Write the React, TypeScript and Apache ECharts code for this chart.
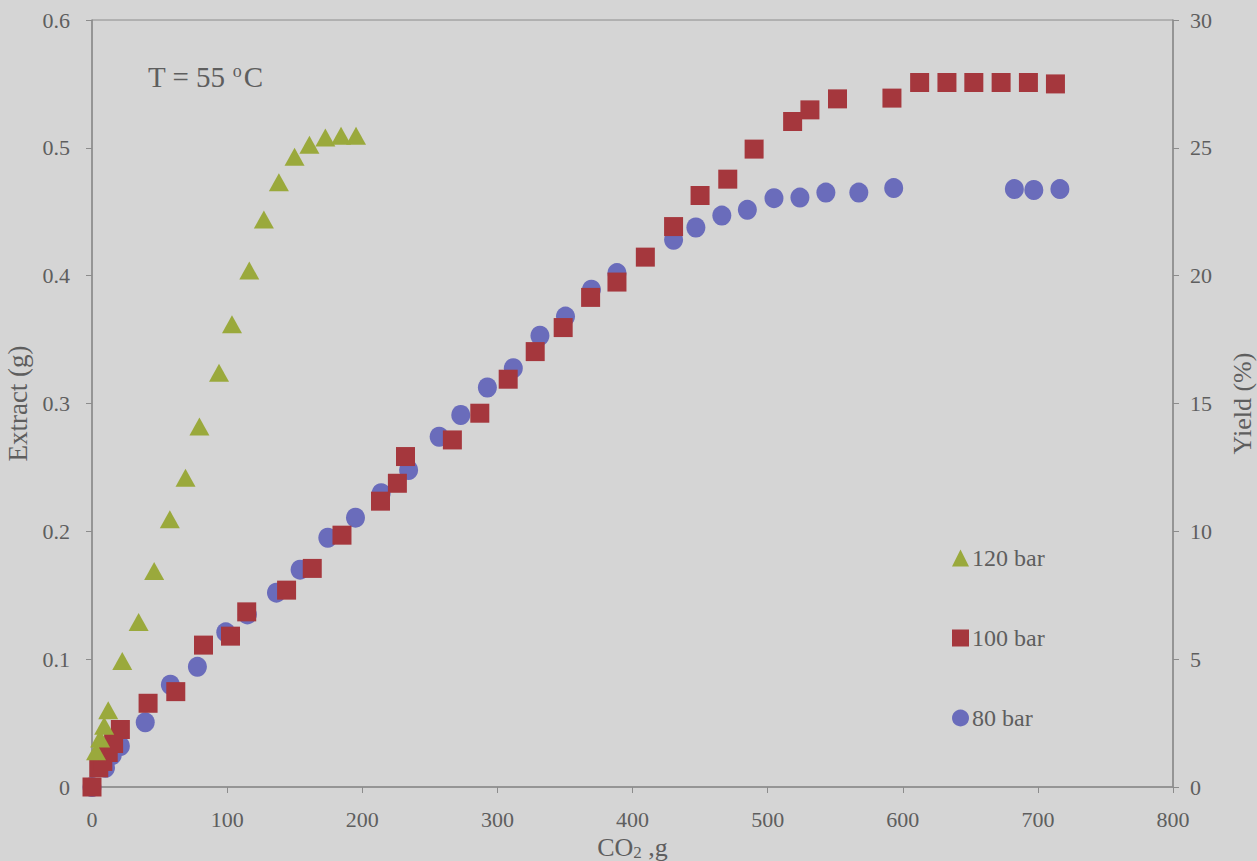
import React, { useEffect, useRef } from "react";
import * as echarts from "echarts";

const seriesNames = ["120 bar", "100 bar", "80 bar"];

const bar120: number[][] = [
  [3, 0.028], [6, 0.038], [9, 0.048], [12, 0.06], [22.4, 0.0986], [34.5, 0.129],
  [46, 0.169], [57.6, 0.2095], [69.2, 0.242], [79.5, 0.282], [94, 0.324],
  [103.6, 0.362], [116.4, 0.404], [127.2, 0.444], [138.3, 0.473], [149.9, 0.493],
  [160.9, 0.5025], [172.7, 0.508], [184.3, 0.5095], [195.4, 0.5095],
];

const bar100: number[][] = [
  [0, 0], [5, 0.015], [8, 0.02], [12, 0.027], [16, 0.034], [21, 0.045],
  [41.5, 0.0655], [62, 0.0746], [82.5, 0.111], [102.5, 0.118], [114.5, 0.137],
  [144, 0.154], [163, 0.171], [185, 0.197], [213.5, 0.2236], [226, 0.2376],
  [232, 0.2585], [266.7, 0.2715], [287, 0.2924], [308, 0.319], [328, 0.3406],
  [348.7, 0.3594], [369, 0.383], [388.5, 0.395], [409.5, 0.4145], [430.4, 0.4384],
  [450, 0.4627], [470.5, 0.4755], [490, 0.499], [518.5, 0.5206], [531.3, 0.5297],
  [551.7, 0.5383], [592, 0.5389], [612.5, 0.5511], [632.7, 0.5511], [652.6, 0.5511],
  [672.8, 0.5511], [693, 0.5511], [713, 0.55],
];

const bar80: number[][] = [
  [0, 0], [10, 0.015], [15, 0.025], [21, 0.032], [39.4, 0.0506], [58, 0.08],
  [78, 0.094], [99, 0.121], [115, 0.135], [136.5, 0.152], [154, 0.17],
  [174.5, 0.195], [195, 0.2107], [214, 0.2298], [234.3, 0.248], [256.9, 0.274],
  [272.9, 0.291], [292.6, 0.3125], [311.8, 0.3276], [331.5, 0.353], [350.4, 0.368],
  [369.6, 0.389], [388.5, 0.402], [430.4, 0.428], [446.9, 0.4377], [466.1, 0.447],
  [485, 0.4515], [504.7, 0.4606], [523.9, 0.4611], [543.1, 0.465], [567.5, 0.465],
  [593.3, 0.4685], [682.6, 0.4677], [697, 0.467], [716.3, 0.4677],
];

const xTicks = { min: 0, max: 800, interval: 100 };
const extractTicks = { min: 0, max: 0.6, interval: 0.1 };
const yieldTicks = { min: 0, max: 30, interval: 5 };

const FONT = "'Liberation Serif', 'DejaVu Serif', serif";
const TEXT = "#5e5e5e";
const AXIS = "#8c8c8c";

export default function App() {
  const ref = useRef<HTMLDivElement>(null);
  useEffect(() => {
    if (!ref.current) return;
    const chart = echarts.init(ref.current, null, { renderer: "svg" });
    const axisCommon = {
      axisLine: { show: true, lineStyle: { color: AXIS, width: 1.5 } },
      axisTick: { show: true, inside: false, length: 6, lineStyle: { color: AXIS } },
      splitLine: { show: false },
      nameTextStyle: { color: TEXT, fontFamily: FONT, fontSize: 27 },
    };
    const tickLabel = { color: TEXT, fontFamily: FONT, fontSize: 22 };
    chart.setOption({
      animation: false,
      backgroundColor: "#d5d5d5",
      grid: {
        left: 92, right: 84, top: 20, bottom: 74,
        containLabel: false, outerBoundsMode: "none",
        show: true, borderColor: AXIS, borderWidth: 1, backgroundColor: "transparent",
      },
      graphic: [
        {
          type: "text", left: 148, top: 62,
          style: {
            text: "T = 55 {sup|o}C",
            fill: TEXT, font: `29px ${FONT}`,
            rich: { sup: { fontSize: 18, verticalAlign: "top", padding: [0, 2, 12, 0], fill: TEXT, fontFamily: FONT } },
          },
        },
      ],
      legend: {
        data: seriesNames,
        orient: "vertical", left: 947, top: 541, itemGap: 56,
        itemWidth: 17, itemHeight: 17,
        textStyle: { color: TEXT, fontFamily: FONT, fontSize: 24, padding: [0, 0, 0, -2] },
      },
      xAxis: {
        type: "value", ...xTicks, ...axisCommon,
        name: "CO{sub|2} ,g", nameLocation: "middle", nameGap: 35,
        nameTextStyle: {
          color: TEXT, fontFamily: FONT, fontSize: 26,
          rich: { sub: { fontSize: 17, verticalAlign: "bottom", padding: [10, 0, 0, 0], color: TEXT, fontFamily: FONT } },
        },
        axisLabel: { ...tickLabel, margin: 21 },
      },
      yAxis: [
        {
          type: "value", ...extractTicks, ...axisCommon, position: "left",
          name: "Extract (g)", nameLocation: "middle", nameGap: 51,
          axisLabel: { ...tickLabel, margin: 22 },
        },
        {
          type: "value", ...yieldTicks, ...axisCommon, position: "right",
          name: "Yield (%)", nameLocation: "middle", nameGap: 56,
          nameTextStyle: { color: TEXT, fontFamily: FONT, fontSize: 26 },
          axisLabel: { ...tickLabel, margin: 17 },
        },
      ],
      series: [
        {
          name: "80 bar", type: "scatter", data: bar80, symbol: "circle",
          symbolSize: [19, 20], itemStyle: { color: "#6a6cbb", opacity: 1 },
        },
        {
          name: "100 bar", type: "scatter", data: bar100, symbol: "rect",
          symbolSize: 19, itemStyle: { color: "#a5373d", opacity: 1 },
        },
        {
          name: "120 bar", type: "scatter", data: bar120, symbol: "triangle",
          symbolSize: [20, 18], itemStyle: { color: "#9aa93c", opacity: 1 },
        },
      ],
    });
    return () => chart.dispose();
  }, []);
  return (
    <div
      ref={ref}
      style={{ position: "fixed", left: 0, top: 0, width: 1257, height: 861, background: "#d5d5d5" }}
    />
  );
}
